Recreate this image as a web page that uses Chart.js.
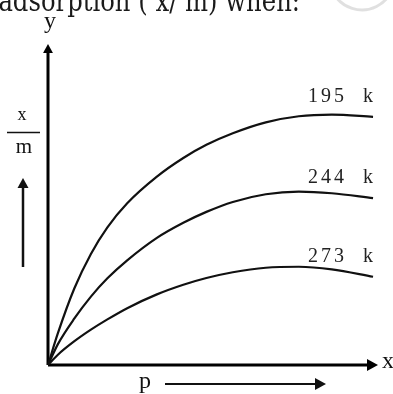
<!DOCTYPE html>
<html>
<head>
<meta charset="utf-8">
<script src="https://cdn.jsdelivr.net/npm/chart.js@4.4.1/dist/chart.umd.min.js"></script>
<style>
  html, body { margin: 0; padding: 0; background: #fff; }
  #wrap { width: 393px; height: 394px; position: relative; }
</style>
</head>
<body>
<div id="wrap"><canvas id="isotherms"></canvas></div>
<script>
// pressure (arbitrary units) and x/m read along each isotherm
const pressure = [0, 3, 8, 13, 18, 24, 33, 41, 48, 56, 66, 76, 86, 98.5];
const temps = ["195 k", "244 k", "273 k"];
const ads195 = [0, 9.9, 23.9, 34.6, 42.9, 50.4, 58.7, 64.5, 68.6, 72.2, 75.6, 77.5, 78.0, 77.3];
const ads244 = [0, 6.5, 14.5, 21.3, 27.0, 32.6, 39.6, 44.3, 47.7, 50.8, 53.2, 54.0, 53.5, 52.0];
const ads273 = [0, 3.2, 7.4, 11.0, 14.2, 17.7, 22.0, 25.0, 27.1, 28.9, 30.3, 30.6, 29.8, 27.5];

const series = [ads195, ads244, ads273];
const SERIF = '"Liberation Serif", "Times New Roman", serif';

function arrowHead(ctx, x, y, dir, size) {
  // dir: 'up' or 'right'
  ctx.beginPath();
  if (dir === 'up') {
    ctx.moveTo(x, y);
    ctx.lineTo(x - size * 0.55, y + size);
    ctx.lineTo(x + size * 0.55, y + size);
  } else {
    ctx.moveTo(x, y);
    ctx.lineTo(x - size, y - size * 0.55);
    ctx.lineTo(x - size, y + size * 0.55);
  }
  ctx.closePath();
  ctx.fill();
}

const sketch = {
  id: 'sketch',
  beforeDatasetsDraw(chart) {
    const ctx = chart.ctx;
    const xs = chart.scales.x, ys = chart.scales.y;
    const x0 = xs.getPixelForValue(0), y0 = ys.getPixelForValue(0);
    const xEnd = xs.getPixelForValue(xs.max), yEnd = ys.getPixelForValue(ys.max);
    ctx.save();
    ctx.strokeStyle = '#000';
    ctx.fillStyle = '#000';
    ctx.lineWidth = 3;
    ctx.beginPath();
    ctx.moveTo(x0, y0);
    ctx.lineTo(x0, yEnd + 6);
    ctx.moveTo(x0, y0);
    ctx.lineTo(xEnd - 6, y0);
    ctx.stroke();
    arrowHead(ctx, x0, yEnd, 'up', 9);
    arrowHead(ctx, xEnd, y0, 'right', 11);

    // heading line above the graph
    ctx.save();
    ctx.fillStyle = '#1a1a1a';
    ctx.font = '30px "DejaVu Serif"';
    ctx.textAlign = 'left';
    ctx.scale(0.81, 1);
    ctx.fillText('adsorption ( x/ m) when:', -2, 11);
    ctx.restore();

    // faint stamp at the top corner
    ctx.strokeStyle = 'rgba(0,0,0,0.12)';
    ctx.lineWidth = 3;
    ctx.beginPath();
    ctx.arc(362, -22, 32, 0.1 * Math.PI, 0.9 * Math.PI);
    ctx.stroke();

    ctx.fillStyle = '#111';
    ctx.textAlign = 'center';
    ctx.font = '24px ' + SERIF;
    ctx.fillText('y', x0 + 2, 28);
    ctx.fillText('x', 388, 368);
    ctx.fillText('p', 145, 388);

    // x/m fraction with arrow
    ctx.font = '18px ' + SERIF;
    ctx.fillText('x', 22, 120);
    ctx.font = '21px ' + SERIF;
    ctx.fillText('m', 24, 153);
    ctx.lineWidth = 1.5;
    ctx.strokeStyle = '#111';
    ctx.beginPath();
    ctx.moveTo(7, 132.5);
    ctx.lineTo(40, 132.5);
    ctx.stroke();
    ctx.lineWidth = 2.5;
    ctx.beginPath();
    ctx.moveTo(23, 267);
    ctx.lineTo(23, 186);
    ctx.stroke();
    arrowHead(ctx, 23, 178, 'up', 10);

    // p arrow
    ctx.lineWidth = 2;
    ctx.beginPath();
    ctx.moveTo(165, 384);
    ctx.lineTo(316, 384);
    ctx.stroke();
    arrowHead(ctx, 326, 384, 'right', 11);

    // isotherm labels above the end of each curve
    ctx.fillStyle = '#222';
    ctx.font = '20px ' + SERIF;
    ctx.letterSpacing = '3px';
    ctx.textAlign = 'right';
    series.forEach((vals, i) => {
      const last = vals.length - 1;
      const px = xs.getPixelForValue(pressure[last]);
      const py = ys.getPixelForValue(vals[last]);
      ctx.fillText(temps[i].replace(' ', '  '), px + 3, py - 15);
    });
    ctx.restore();
  }
};

new Chart('isotherms', {
  type: 'line',
  data: {
    labels: pressure,
    datasets: series.map((vals, i) => ({
      label: temps[i],
      data: vals.map((v, j) => ({ x: pressure[j], y: v })),
      borderColor: '#111',
      borderWidth: 2.2,
      pointRadius: 0,
      cubicInterpolationMode: 'monotone',
      fill: false,
      clip: false
    }))
  },
  options: {
    responsive: true,
    maintainAspectRatio: false,
    animation: false,
    layout: { padding: { left: 48, right: 15, top: 44, bottom: 29 } },
    plugins: { legend: { display: false }, tooltip: { enabled: false } },
    scales: {
      x: { type: 'linear', min: 0, max: 100, display: false },
      y: { type: 'linear', min: 0, max: 100, display: false }
    }
  },
  plugins: [sketch]
});
</script>
</body>
</html>
